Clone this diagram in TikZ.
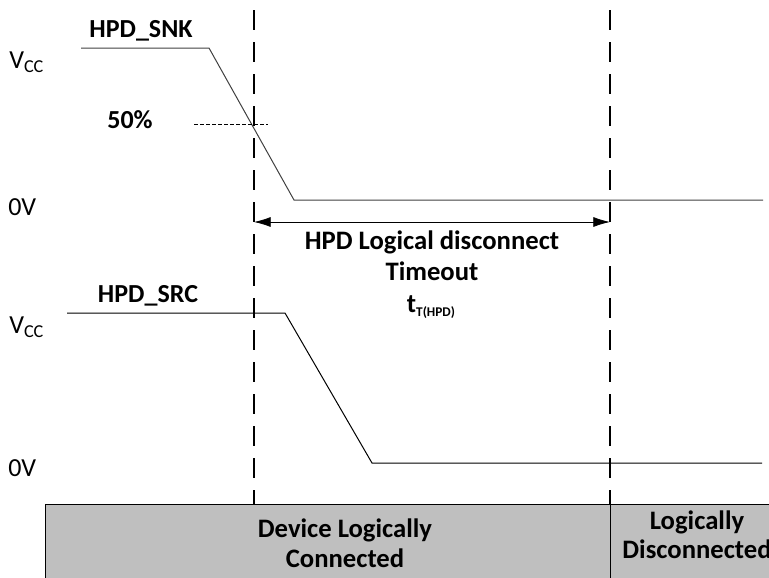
\documentclass[tikz,border=0pt]{standalone}
\usepackage{fontspec}
\setmainfont{Carlito}
\usetikzlibrary{arrows.meta}

\begin{document}
\begin{tikzpicture}[x=0.75pt,y=-0.75pt,
    wave/.style={line width=0.75pt},
    marker/.style={line width=2.2pt,dash pattern=on 15pt off 9pt},
    sig/.style={font=\bfseries\fontsize{19.5}{23}\selectfont},
    big/.style={font=\bfseries\fontsize{20}{24}\selectfont,anchor=base},
    lvl/.style={font=\fontsize{19.5}{23}\selectfont,anchor=base west,inner sep=0pt}]
  \useasboundingbox (0,0) rectangle (769,578);
  % state bar
  \fill[gray!50] (45,504) rectangle (769,578);
  \draw[line width=0.75pt] (45,578) -- (45,504) -- (769,504);
  \draw[line width=0.6pt] (610,504) -- (610,578);
  % levels
  \node[lvl] (vcca) at (9,68) {V\textsubscript{CC}};
  \node[lvl] (gnda) at (8,215) {0V};
  \node[lvl] (vccb) at (9,333) {V\textsubscript{CC}};
  \node[lvl] (gndb) at (8,476) {0V};
  % signals
  \node[sig] (snk) at (141,31) {HPD\_SNK};
  \node[sig] (src) at (148,296) {HPD\_SRC};
  \node[sig] (half) at (130,120) {50\%};
  \draw[wave,black!75] (81,48) -- (209,48) -- (294,200) -- (763,200);
  \draw[wave] (67,313) -- (285,313) -- (372,463) -- (762,463);
  \draw[line width=0.6pt,dash pattern=on 3pt off 1.5pt] (194,124) -- (268,124);
  % markers
  \draw[marker] (254,10) -- (254,504);
  \draw[marker] (610,10) -- (610,504);
  \coordinate (tl) at (254,222);
  \coordinate (tr) at (610,222);
  \draw[line width=0.6pt,{Latex[length=12.5pt,width=7.5pt]}-{Latex[length=12.5pt,width=7.5pt]}] (tl) -- (tr);
  \node[big] (tmoa) at (432,249) {HPD Logical disconnect};
  \node[big] (tmob) at (432,280) {Timeout};
  \node[big] (tmoc) at (431,312) {t\raisebox{-3pt}{\fontsize{10}{11}\selectfont T(HPD)}};
  % bar labels
  \node[big] (cona) at (345,537) {Device Logically};
  \node[big] (conb) at (345,567) {Connected};
  \node[big] (disa) at (697,529) {Logically};
  \node[big] (disb) at (697,558) {Disconnected};
\end{tikzpicture}
\end{document}
